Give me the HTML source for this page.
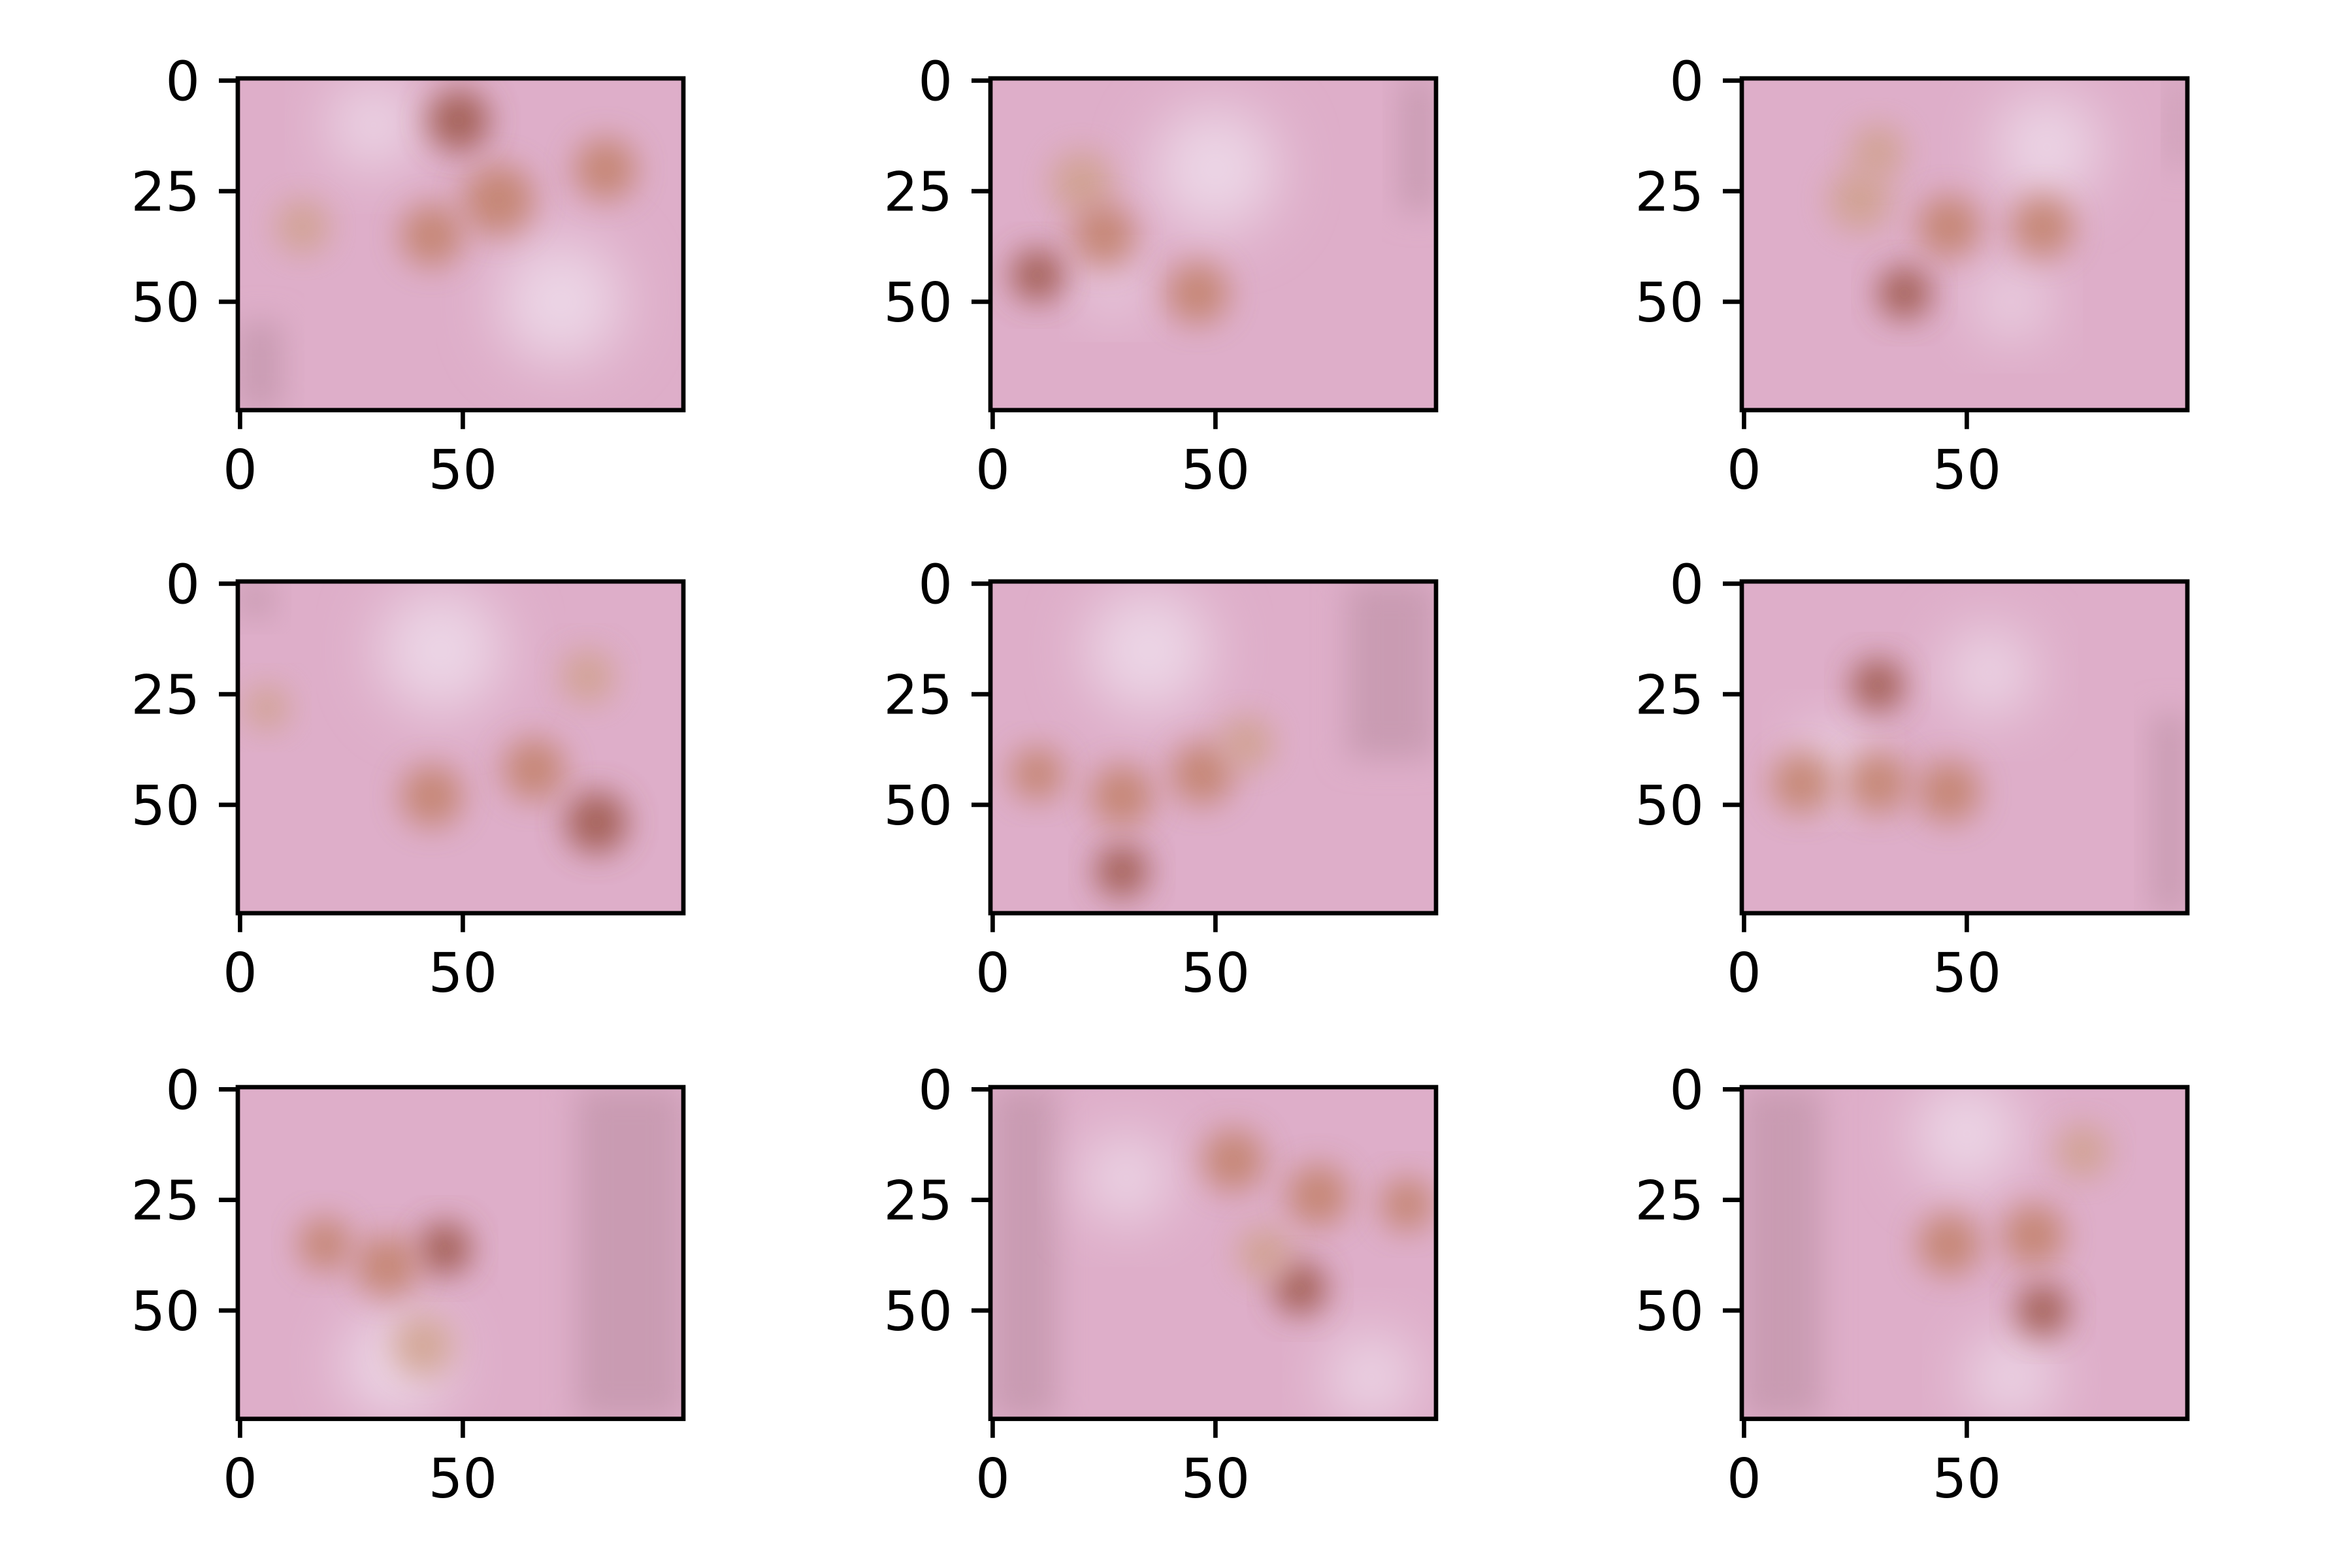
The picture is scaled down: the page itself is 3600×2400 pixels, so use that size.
<!DOCTYPE html>
<html><head><meta charset="utf-8">
<style>
html,body{margin:0;padding:0;background:#fff;}
svg{display:block;}
text{font-family:"DejaVu Sans","Liberation Sans",sans-serif;font-size:83px;fill:#000;}
</style></head>
<body>
<svg id="fig" width="3600" height="2400" viewBox="0 0 3600 2400">
<defs>
<filter id="blur" x="-50%" y="-50%" width="200%" height="200%"><feGaussianBlur stdDeviation="24"/></filter>
<filter id="blur2" x="-50%" y="-50%" width="200%" height="200%"><feGaussianBlur stdDeviation="45"/></filter>
</defs>
</svg>
<script>
// image dimensions in data units
const imgW = 100, imgH = 75;
const xTicks = [0, 50];
const yTicks = [0, 25, 50];
// blob data per panel: [x, y, radius, strength] in image pixel coordinates
const blobs1 = [[49,9,7,2],[82,20,7,1],[58,27,8,1],[43,35,7,1],[14,33,6,0]];
const blobs2 = [[10,44,6,2],[46,48,7,1],[20,23,7,0],[25,35,7,1]];
const blobs3 = [[36,48,6,2],[67,33,7,1],[46,33,7,1],[26,27,7,0],[30,16,6,0]];
const blobs4 = [[80,54,7,2],[66,42,7,1],[43,48,7,1],[78,21,6,0],[6,28,5,0]];
const blobs5 = [[29,65,6,2],[29,48,7,1],[10,43,6,1],[47,43,7,1],[57,36,6,0]];
const blobs6 = [[30,23,6,2],[13,45,7,1],[46,47,7,1],[30,45,7,1]];
const blobs7 = [[46,36,6,2],[33,40,7,1],[19,35,6,1],[41,58,7,0]];
const blobs8 = [[69,45,6,2],[54,16,7,1],[73,24,7,1],[93,26,6,1],[61,37,6,0]];
const blobs9 = [[67,50,6,2],[46,35,7,1],[65,33,7,1],[76,14,6,0]];
// light patches per panel: [x, y, radius]
const lights = [[[72,50,14],[30,10,10]],[[50,20,14],[27,47,6]],[[68,15,12],[60,50,8]],[[45,15,14]],[[35,15,14]],[[55,20,10],[20,40,8]],[[35,62,12]],[[30,20,10],[85,65,10]],[[50,10,12],[60,65,10]]];
// mauve streak patches per panel: [x, y, w, h]
const streaks = [[[0,55,10,20]],[[92,0,8,30]],[[96,0,4,20]],[[0,0,8,8]],[[80,0,20,40]],[[92,30,8,45]],[[76,0,24,75]],[[0,0,15,75]],[[0,0,18,75]]];
const panels = [blobs1,blobs2,blobs3,blobs4,blobs5,blobs6,blobs7,blobs8,blobs9];
const colX = [364, 1516, 2666];
const rowY = [120, 890, 1664];
const pixX = 6.82, pixY = 6.77;
const NS = "http://www.w3.org/2000/svg";
const svg = document.getElementById('fig');
const blobColors = ['#cfa088','#c07e62','#97503e'];
function mk(tag, attrs, parent){const e=document.createElementNS(NS,tag);for(const k in attrs)e.setAttribute(k,attrs[k]);parent.appendChild(e);return e;}
panels.forEach((bl, i) => {
  const x0 = colX[i%3], y0 = rowY[Math.floor(i/3)];
  const w = imgW*pixX, h = imgH*pixY;
  const sx = v => x0 + (v+0.5)*pixX;
  const sy = v => y0 + (v+0.5)*pixY;
  const g = mk('g', {}, svg);
  
  
  const cid = 'clip'+i;
  const cp = mk('clipPath', {id: cid}, svg);
  mk('rect', {x:x0, y:y0, width:w, height:h}, cp);
  const img = mk('g', {'clip-path':'url(#'+cid+')'}, g);
  
  
  mk('rect', {x:x0, y:y0, width:w, height:h, fill:'#deaec9'}, img);
  streaks[i].forEach(s => {
    mk('rect', {x:x0+s[0]*pixX, y:y0+s[1]*pixY, width:s[2]*pixX, height:s[3]*pixY, fill:'#c99bb2', filter:'url(#blur)'}, img);
  });
  lights[i].forEach(l => {
    mk('circle', {cx:sx(l[0]), cy:sy(l[1]), r:l[2]*pixX, fill:'#ecd6e6', filter:'url(#blur2)'}, img);
  });
  bl.forEach(b => {
    const c = mk('circle', {cx:sx(b[0]), cy:sy(b[1]), r:b[2]*pixX, fill:blobColors[b[3]], opacity:0.8, filter:'url(#blur)'}, img);
    
    
  });
  const fr = mk('rect', {x:x0, y:y0, width:w, height:h, fill:'none', stroke:'#000', 'stroke-width':6.7}, g);
  
  
  xTicks.forEach(t => {
    const X = sx(t);
    mk('line', {x1:X, x2:X, y1:y0+h, y2:y0+h+29, stroke:'#000', 'stroke-width':6.7}, g);
    const tx = mk('text', {x:X, y:y0+h+29+29+62, 'text-anchor':'middle'}, g);
    tx.textContent = t;
    
    
  });
  yTicks.forEach(t => {
    const Y = sy(t);
    mk('line', {x1:x0-29, x2:x0, y1:Y, y2:Y, stroke:'#000', 'stroke-width':6.7}, g);
    const ty = mk('text', {x:x0-29-29, y:Y+30, 'text-anchor':'end'}, g);
    ty.textContent = t;
    
    
  });
});
</script>
</body></html>
